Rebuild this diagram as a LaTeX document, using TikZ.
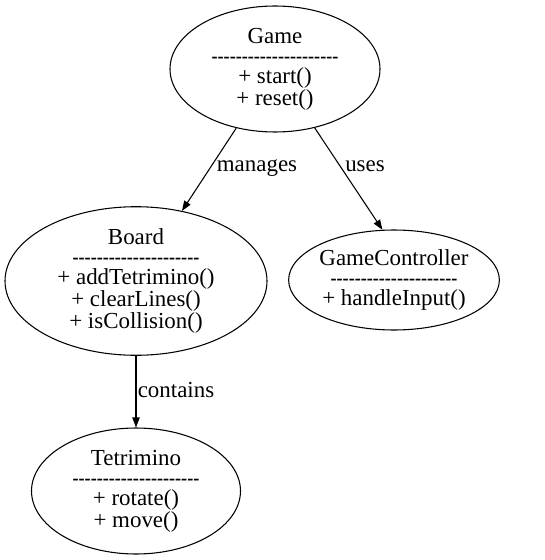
\documentclass[tikz,border=0pt]{standalone}
\usepackage{fontspec}
\setmainfont{Liberation Serif}
\usetikzlibrary{shapes.geometric,arrows.meta}
\newcommand\dashrow{\scalebox{0.79}[1]{-{}-{}-{}-{}-{}-{}-{}-{}-{}-{}-{}-{}-{}-{}-{}-{}-{}-{}-{}-{}-}}
\tikzset{
  cls/.style={draw, ellipse, line width=0.8pt, inner sep=0pt, align=center,
    font=\fontsize{17.2}{15}\selectfont},
  edge/.style={line width=0.8pt, -{Triangle[length=7.5pt,width=5.5pt]}},
  elabel/.style={anchor=base, inner sep=0pt, font=\fontsize{17.2}{15}\selectfont}
}
\begin{document}
\begin{tikzpicture}[x=0.75pt,y=-0.75pt]
\useasboundingbox (0,0) rectangle (544,560);
\node[cls, minimum width=210*0.75pt, minimum height=126*0.75pt] (game) at (275,69)
  {Game\\\dashrow\\+ start()\\+ reset()};
\node[cls, minimum width=262*0.75pt, minimum height=126*0.75pt] (board) at (136,281)
  {Board\\\dashrow\\+ addTetrimino()\\+ clearLines()\\+ isCollision()};
\node[cls, minimum width=206*0.75pt, minimum height=100*0.75pt] (gc) at (394,280)
  {GameController\\\dashrow\\+ handleInput()};
\node[cls, minimum width=209*0.75pt, minimum height=126*0.75pt] (tet) at (136,491)
  {Tetrimino\\\dashrow\\+ rotate()\\+ move()};
\draw[edge] (game) -- (board);
\draw[edge] (game.-56) -- (gc.103);
\draw[edge] (board.south) -- (tet.north);
\node[elabel] (l1) at (257,171) {manages};
\node[elabel] (l2) at (365,171) {uses};
\node[elabel] (l3) at (176,397) {contains};
\end{tikzpicture}
\end{document}
